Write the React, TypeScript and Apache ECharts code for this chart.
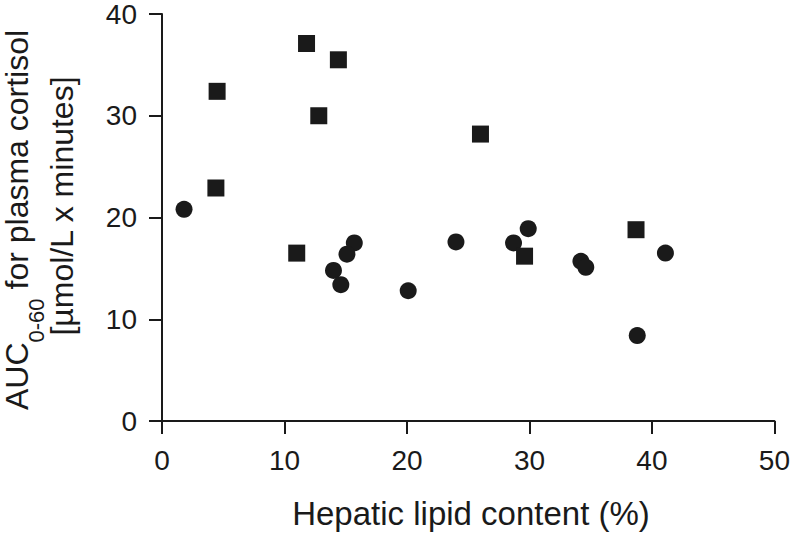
import React, { useEffect, useRef } from "react";
import * as echarts from "echarts";

// Circles series (x = hepatic lipid %, y = AUC)
const circleX = [1.8, 15.7, 15.1, 14.0, 14.6, 20.1, 24.0, 28.7, 29.9, 34.2, 34.6, 38.8, 41.1];
const circleY = [20.8, 17.5, 16.4, 14.8, 13.4, 12.8, 17.6, 17.5, 18.9, 15.7, 15.1, 8.4, 16.5];
// Squares series
const squareX = [4.5, 4.4, 11.8, 14.4, 12.8, 26.0, 11.0, 29.6, 38.7];
const squareY = [32.4, 22.9, 37.1, 35.5, 30.0, 28.2, 16.5, 16.2, 18.8];

const xTicks = [0, 10, 20, 30, 40, 50];
const yTicks = [0, 10, 20, 30, 40];

const xTitle = "Hepatic lipid content (%)";
const yTitleMain = "AUC";
const yTitleSub = "0-60";
const yTitleRest = " for plasma cortisol";
const yTitleLine2 = "[µmol/L x minutes]";

const FONT = "'Liberation Sans', Arial, Helvetica, sans-serif";
const INK = "#1a1a1a";

function measure(text: string, size: number): number {
  const c = document.createElement("canvas").getContext("2d");
  if (!c) return text.length * size * 0.5;
  c.font = `${size}px ${FONT}`;
  return c.measureText(text).width;
}

export default function App() {
  const ref = useRef<HTMLDivElement>(null);

  useEffect(() => {
    document.body.style.margin = "0";
    if (!ref.current) return;
    const chart = echarts.init(ref.current, undefined, { renderer: "svg" });

    const mainSize = 32;
    const subSize = 22;
    const wMain = measure(yTitleMain, mainSize);
    const wSub = measure(yTitleSub, subSize);

    const pair = (xs: number[], ys: number[]) => xs.map((x, i) => [x, ys[i]]);

    chart.setOption({
      animation: false,
      grid: { left: 162, right: 16, top: 11.5, bottom: 112, containLabel: false },
      xAxis: {
        type: "value",
        min: xTicks[0],
        max: xTicks[xTicks.length - 1],
        interval: 10,
        splitLine: { show: false },
        axisLine: { onZero: false, lineStyle: { color: INK, width: 2 } },
        axisTick: { length: 13, lineStyle: { color: INK, width: 2 } },
        axisLabel: { margin: 25, fontSize: 28, color: INK, fontFamily: FONT },
      },
      yAxis: {
        type: "value",
        min: yTicks[0],
        max: yTicks[yTicks.length - 1],
        interval: 10,
        splitLine: { show: false },
        axisLine: { show: true, onZero: false, lineStyle: { color: INK, width: 2 } },
        axisTick: { show: true, length: 13, lineStyle: { color: INK, width: 2 } },
        axisLabel: { margin: 25, fontSize: 28, color: INK, fontFamily: FONT },
      },
      series: [
        {
          type: "scatter",
          symbol: "circle",
          symbolSize: 17,
          itemStyle: { color: INK, opacity: 1 },
          data: pair(circleX, circleY),
        },
        {
          type: "scatter",
          symbol: "rect",
          symbolSize: 17,
          itemStyle: { color: INK, opacity: 1 },
          data: pair(squareX, squareY),
        },
      ],
      graphic: [
        {
          type: "text",
          x: 471,
          y: 513.5,
          style: {
            text: xTitle,
            font: `33px ${FONT}`,
            fill: INK,
            textAlign: "center",
            textVerticalAlign: "middle",
          },
        },
        {
          type: "group",
          x: 0,
          y: 410,
          rotation: Math.PI / 2,
          children: [
            {
              type: "text",
              x: 0,
              y: 17,
              style: {
                text: yTitleMain,
                font: `${mainSize}px ${FONT}`,
                fill: INK,
                textAlign: "left",
                textVerticalAlign: "middle",
              },
            },
            {
              type: "text",
              x: wMain,
              y: 36,
              style: {
                text: yTitleSub,
                font: `${subSize}px ${FONT}`,
                fill: INK,
                textAlign: "left",
                textVerticalAlign: "middle",
              },
            },
            {
              type: "text",
              x: wMain + wSub,
              y: 17,
              style: {
                text: yTitleRest,
                font: `${mainSize}px ${FONT}`,
                fill: INK,
                textAlign: "left",
                textVerticalAlign: "middle",
              },
            },
            {
              type: "text",
              x: 204,
              y: 62,
              style: {
                text: yTitleLine2,
                font: `32px ${FONT}`,
                fill: INK,
                textAlign: "center",
                textVerticalAlign: "middle",
              },
            },
          ],
        },
      ],
    });

    return () => chart.dispose();
  }, []);

  return (
    <div
      ref={ref}
      style={{ position: "absolute", left: 0, top: 0, width: 793, height: 533 }}
    />
  );
}
